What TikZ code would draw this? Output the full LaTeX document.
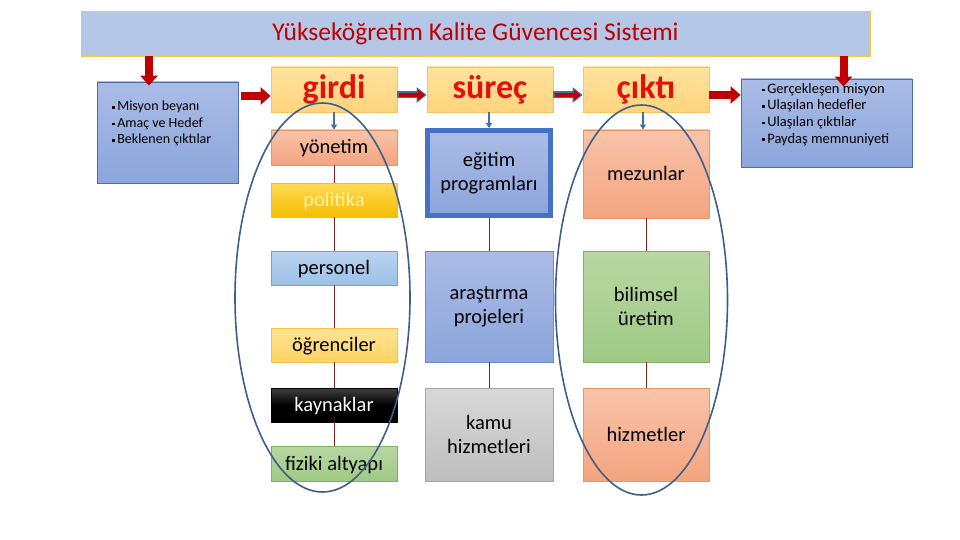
\documentclass[tikz,border=0pt]{standalone}
\usepackage{fontspec}
\setmainfont{Carlito}
\usetikzlibrary{arrows.meta}
\definecolor{titleFill}{HTML}{B4C7E7}
\definecolor{titleLine}{HTML}{F2C84B}
\definecolor{titleText}{HTML}{C00000}
\definecolor{hdrTop}{HTML}{FFE29E}
\definecolor{hdrBot}{HTML}{FFD47C}
\definecolor{hdrLine}{HTML}{F5C45E}
\definecolor{hdrText}{HTML}{E31010}
\definecolor{arrRed}{HTML}{C00000}
\definecolor{arrBlue}{HTML}{41719C}
\definecolor{linkRed}{HTML}{8B2323}
\definecolor{ringBlue}{HTML}{3E5F8A}
\definecolor{bluTop}{HTML}{ABBCE6}
\definecolor{bluBot}{HTML}{8CA5DB}
\definecolor{bluLine}{HTML}{4A6FA5}
\definecolor{salTop}{HTML}{F9C3AA}
\definecolor{salBot}{HTML}{F4A47F}
\definecolor{salLine}{HTML}{EC9460}
\definecolor{golTop}{HTML}{FFDA55}
\definecolor{golBot}{HTML}{F4BE00}
\definecolor{golLine}{HTML}{FFC000}
\definecolor{golText}{HTML}{FFF3A6}
\definecolor{ltbTop}{HTML}{B9D3F0}
\definecolor{ltbBot}{HTML}{9CC2E6}
\definecolor{ltbLine}{HTML}{6FA0D8}
\definecolor{ylwTop}{HTML}{FFE394}
\definecolor{ylwBot}{HTML}{FFD364}
\definecolor{ylwLine}{HTML}{F7C04A}
\definecolor{grnTop}{HTML}{B8D7A3}
\definecolor{grnBot}{HTML}{9FCA84}
\definecolor{grnLine}{HTML}{7DB35A}
\definecolor{gryTop}{HTML}{D8D8D8}
\definecolor{gryBot}{HTML}{BEBEBE}
\definecolor{gryLine}{HTML}{A5A5A5}
\definecolor{eduLine}{HTML}{4472C4}
\newcommand{\sqb}{\raisebox{0.3ex}{\rule{2.6pt}{2.6pt}}\hspace{2.5pt}}
\begin{document}
\begin{tikzpicture}[x=1pt,y=-1pt,
  box/.style={draw, line width=0.8pt, inner sep=2pt, align=center, text=black,
    font=\fontsize{20.5}{24}\selectfont},
  hdr/.style={box, top color=hdrTop, bottom color=hdrBot, draw=hdrLine,
    minimum width=126pt, minimum height=45pt, text=hdrText,
    font=\fontsize{34}{38}\selectfont\bfseries},
  salbox/.style={box, top color=salTop, bottom color=salBot, draw=salLine},
  golbox/.style={box, top color=golTop, bottom color=golBot, draw=golLine, text=golText},
  ltbbox/.style={box, top color=ltbTop, bottom color=ltbBot, draw=ltbLine},
  ylwbox/.style={box, top color=ylwTop, bottom color=ylwBot, draw=ylwLine},
  blkbox/.style={box, top color=black!75, bottom color=black, middle color=black, draw=black, text=white},
  grnbox/.style={box, top color=grnTop, bottom color=grnBot, draw=grnLine},
  grybox/.style={box, top color=gryTop, bottom color=gryBot, draw=gryLine},
  blubox/.style={box, top color=bluTop, bottom color=bluBot, draw=bluLine},
  c1/.style={minimum width=126pt},
  oneline/.style={text height=13pt, text depth=0pt},
  bigarrow/.style={draw=arrRed, line width=8pt, -{Triangle[length=10pt,width=17pt]}},
  outarrow/.style={draw=arrBlue, line width=7pt, -{Triangle[length=10pt,width=15pt]}},
  inarrow/.style={draw=arrRed, line width=4.2pt, -{Triangle[length=7pt,width=10.5pt]},
    shorten >=1.8pt, shorten <=1.2pt},
  smallarr/.style={draw=arrBlue, line width=1.5pt, -{Triangle[length=5pt,width=6pt]}},
  link/.style={draw=linkRed, line width=0.9pt},
  ring/.style={draw=ringBlue, line width=1.6pt},
  bullets/.style={anchor=north west, align=left, inner sep=0pt, text=black,
    font=\fontsize{14}{16.4}\selectfont}
]
\useasboundingbox[fill=white] (0,0) rectangle (960,540);

% title
\node[draw=titleLine, line width=0.8pt, fill=titleFill, minimum width=789pt, minimum height=45pt,
  text=titleText, font=\fontsize{25.5}{28}\selectfont] (title) at (475.5,33.5)
  {Yükseköğretim Kalite Güvencesi Sistemi};

% side boxes
\node[blubox, minimum width=141pt, minimum height=101pt] (lb) at (167.5,132.5) {};
\node[bullets] (lbt) at (112,101) {\sqb Misyon beyanı\\ \sqb Amaç ve Hedef\\ \sqb Beklenen çıktılar};
\node[blubox, minimum width=171pt, minimum height=88pt] (rb) at (826.5,123) {};
\node[bullets, font=\fontsize{14.5}{16.6}\selectfont] (rbt) at (762,83)
  {\sqb Gerçekleşen misyon\\ \sqb Ulaşılan hedefler\\ \sqb Ulaşılan çıktılar\\ \sqb Paydaş memnuniyeti};

% headers
\node[hdr] (girdi) at (334,89.5) {girdi};
\node[hdr] (surec) at (490,89.5) {süreç};
\node[hdr] (cikti) at (646,89.5) {çıktı};

% column 1
\node[salbox, c1, oneline, minimum height=35pt] (yon) at (334,147.5) {yönetim};
\node[golbox, c1, oneline, minimum height=34pt] (pol) at (334,200) {politika};
\node[ltbbox, c1, oneline, minimum height=34pt] (per) at (334,268) {personel};
\node[ylwbox, c1, oneline, minimum height=34pt] (ogr) at (334,345) {öğrenciler};
\node[blkbox, c1, oneline, minimum height=34pt] (kay) at (334,405) {kaynaklar};
\node[grnbox, c1, oneline, minimum height=35pt] (fiz) at (334,463.5) {fiziki altyapı};

% column 2
\node[box, top color=bluTop, bottom color=bluBot, draw=eduLine, line width=5pt,
  minimum width=123pt, minimum height=85pt] (egi) at (489,173) {eğitim\\programları};
\node[blubox, draw=eduLine!80, minimum width=128pt, minimum height=111pt] (ara) at (489,306.5) {araştırma\\projeleri};
\node[grybox, minimum width=128pt, minimum height=93pt] (kam) at (489,434.5) {kamu\\hizmetleri};

% column 3
\node[salbox, c1, oneline, minimum height=88pt] (mez) at (646,174) {mezunlar};
\node[grnbox, c1, minimum height=111pt] (bil) at (646,306.5) {bilimsel\\üretim};
\node[salbox, c1, oneline, minimum height=93pt] (hiz) at (646,434.5) {hizmetler};

% vertical links
\draw[link] (yon) -- (pol);
\draw[link] (pol) -- (per);
\draw[link] (per) -- (ogr);
\draw[link] (ogr) -- (kay);
\draw[link] (kay) -- (fiz);
\draw[link] (egi) -- (ara);
\draw[link] (ara) -- (kam);
\draw[link] (mez) -- (bil);
\draw[link] (bil) -- (hiz);

% small arrows header -> first box
\draw[smallarr] (girdi.south) -- (yon.north);
\draw[smallarr] (surec.south -| egi.north) -- (egi.north);
\draw[smallarr] ([xshift=-3pt]cikti.south) -- ([xshift=-3pt]mez.north);

% down arrows from title
\path (lb.north) ++(-18.5pt,-4pt) coordinate (lbin);
\path (rb.north) ++(17pt,-8pt) coordinate (rbin);
\draw[bigarrow] (title.south -| lbin) -- (lbin);
\draw[bigarrow] (title.south -| rbin) -- (rbin);

% horizontal arrows
\path ([yshift=-6.5pt]girdi.west) coordinate (gin);
\draw[bigarrow, shorten <=3pt] (lb.east |- gin) -- (gin);
\path ([yshift=-5.5pt]cikti.east) coordinate (cout);
\draw[bigarrow] (cout) -- (cout -| rb.west);
\draw[outarrow] ([yshift=-5.5pt]girdi.east) -- ([yshift=-5.5pt]surec.west);
\draw[inarrow] ([yshift=-5.5pt]girdi.east) -- ([yshift=-5.5pt]surec.west);
\draw[outarrow] ([yshift=-5.5pt]surec.east) -- ([yshift=-5.5pt]cikti.west);
\draw[inarrow] ([yshift=-5.5pt]surec.east) -- ([yshift=-5.5pt]cikti.west);

% rings
\draw[ring] (322.5,297.5) ellipse [x radius=87.5pt, y radius=194.5pt];
\draw[ring] (641.5,300) ellipse [x radius=86pt, y radius=195pt];
\end{tikzpicture}
\end{document}
